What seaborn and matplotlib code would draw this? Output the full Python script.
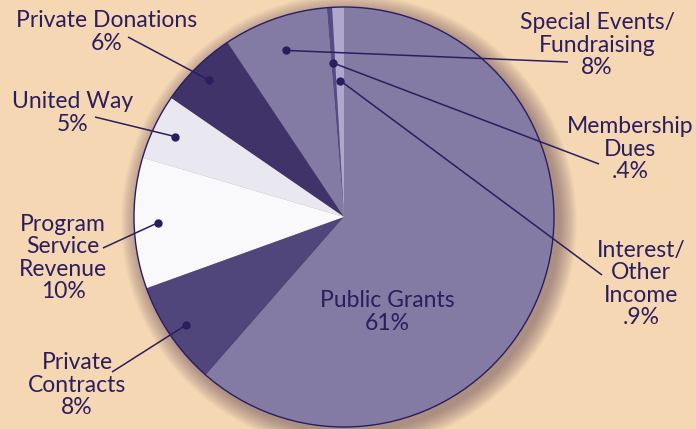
import numpy as np
import seaborn as sns
import matplotlib.pyplot as plt
from matplotlib.patches import Circle

# data, counter-clockwise from 12 o'clock
categories = ['Interest/\nOther\nIncome', 'Membership\nDues', 'Special Events/\nFundraising',
              'Private Donations', 'United Way', 'Program\nService\nRevenue',
              'Private\nContracts', 'Public Grants']
shares = [0.9, 0.4, 8, 6, 5, 10, 8, 61]
pct_labels = ['.9%', '.4%', '8%', '6%', '5%', '10%', '8%', '61%']
colors = ['#aea9cc', '#554b8a', '#837ba4', '#40336a', '#e9e7f0', '#f9f9fc', '#50467b', '#837ba4']

sns.set_theme(style='white')
plt.rcParams['font.family'] = ['Lato', 'DejaVu Sans']

BG = '#f5d8b3'
INK = '#2b1d5e'
W, H = 696, 429

fig = plt.figure(figsize=(6.96, 4.29), dpi=100, facecolor=BG)
ax = fig.add_axes([0, 0, 1, 1])
ax.set_facecolor(BG)


def P(x, y):
    # pixel coords (y down) -> data coords (y up)
    return x, H - y


cx, cy = P(344, 217)
R = 210

# soft shadow to the lower right
for i in range(14):
    ax.add_patch(Circle((cx + 5, cy - 5), R + 1 + i * 1.3, color='#4a2c48',
                        alpha=0.035, lw=0, zorder=0))

wedges, _ = ax.pie(shares, colors=colors, startangle=90, counterclock=True,
                   center=(cx, cy), radius=R, normalize=True,
                   wedgeprops=dict(linewidth=0, antialiased=True))
for w in wedges:
    w.set_zorder(2)
ax.add_patch(Circle((cx, cy), R, fill=False, ec=INK, lw=1.0, zorder=3))

# label block centres (pixels), leader end points and dot radius fractions
label_pos = [(641, 284), (630, 149), (597, 45), (107, 32), (73, 113), (63, 258), (77, 385)]
leader_end = [(602, 275), (599, 164), (568, 62), (128, 37), (95, 117), (103, 248), (112, 372)]
dot_frac = [0.65, 0.735, 0.84, 0.915, 0.89, 0.885, 0.91]

FS = 16.5
for i, w in enumerate(wedges[:-1]):
    mid = np.deg2rad((w.theta1 + w.theta2) / 2)
    dx = cx + dot_frac[i] * R * np.cos(mid)
    dy = cy + dot_frac[i] * R * np.sin(mid)
    ex, ey = P(*leader_end[i])
    ax.plot([dx, ex], [dy, ey], color=INK, lw=1.1, zorder=4, solid_capstyle='butt')
    ax.plot(dx, dy, 'o', color=INK, ms=5, zorder=5)
    tx, ty = P(*label_pos[i])
    ax.text(tx, ty, categories[i] + '\n' + pct_labels[i], ha='center', va='center',
            color=INK, fontsize=FS, linespacing=1.08, zorder=6)

tx, ty = P(387, 312)
ax.text(tx, ty, categories[-1] + '\n' + pct_labels[-1], ha='center', va='center',
        color=INK, fontsize=FS, linespacing=1.08, zorder=6)

ax.set_xlim(0, W)
ax.set_ylim(0, H)
ax.set_aspect('equal')
ax.axis('off')

plt.savefig('out.png', dpi=100, facecolor=BG)
